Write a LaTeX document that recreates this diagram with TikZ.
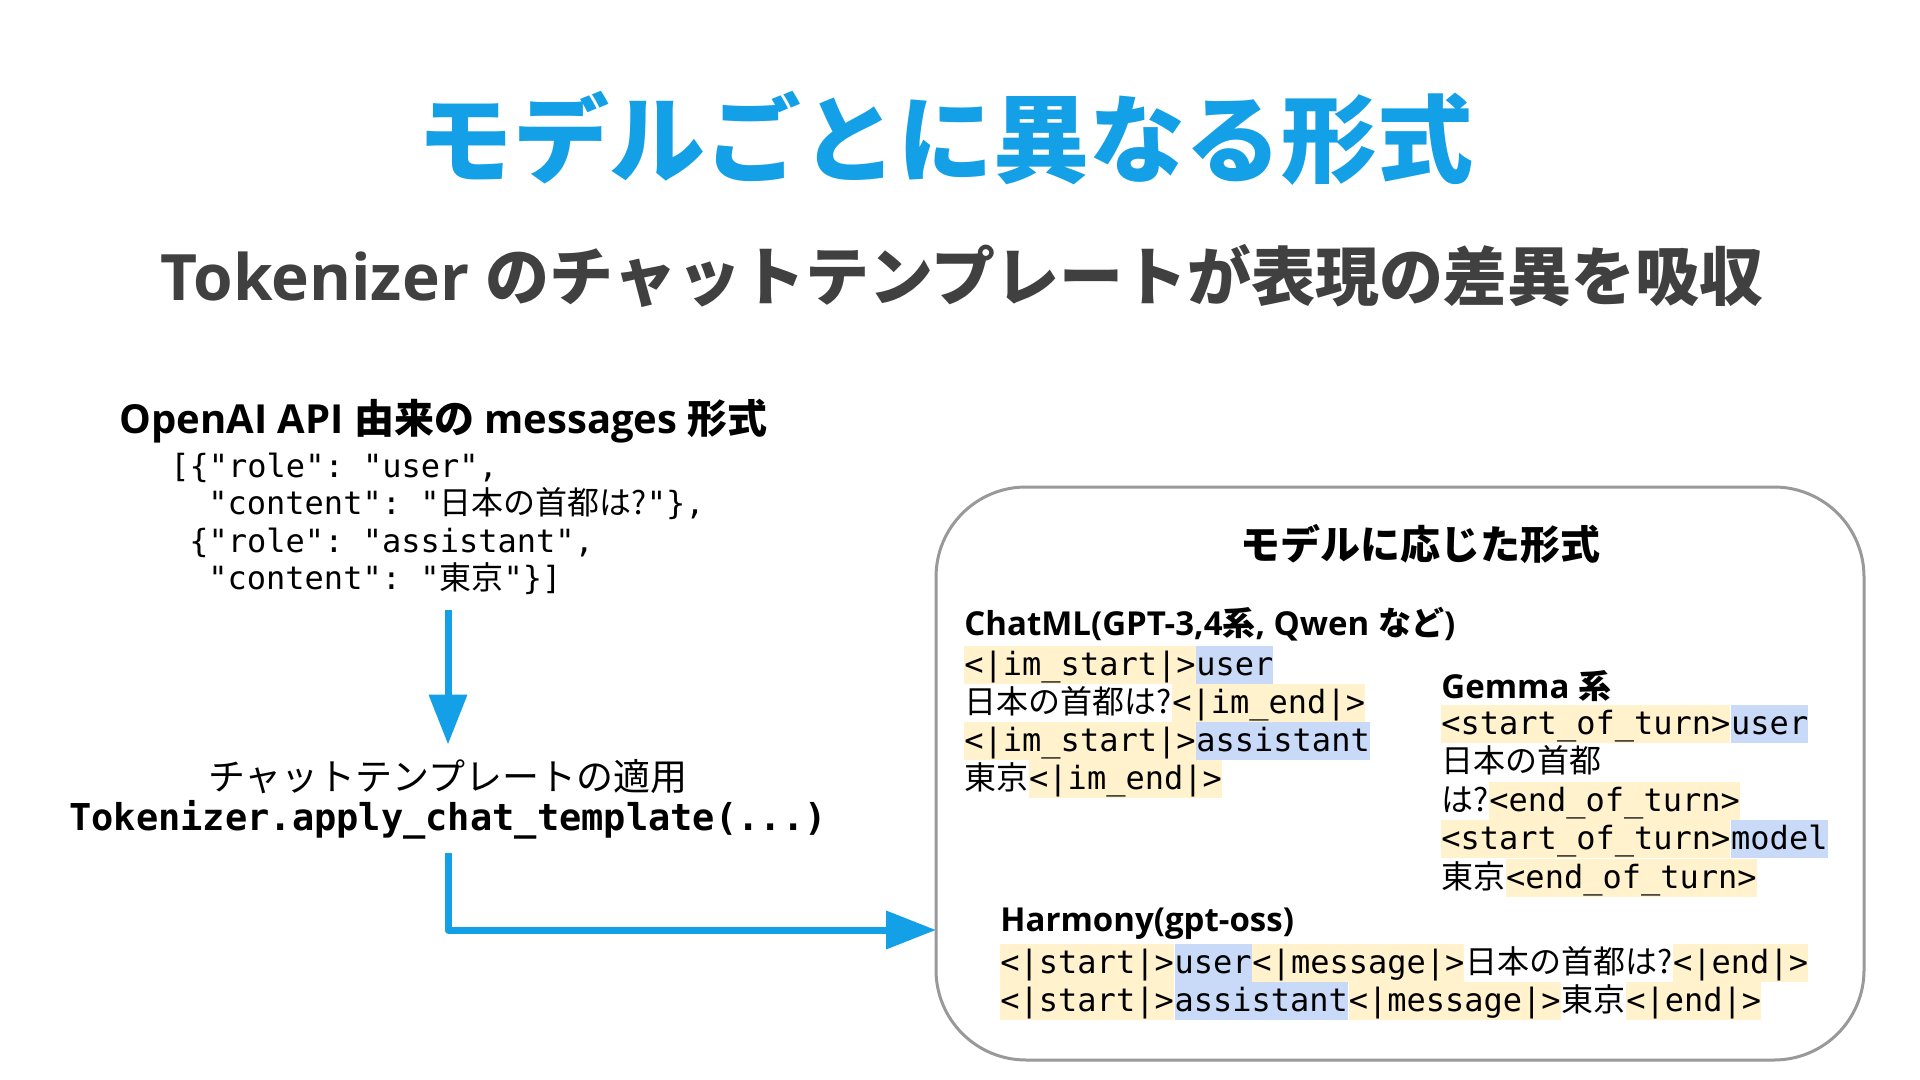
\documentclass[tikz,border=0pt]{standalone}
\usepackage{fontspec}
\setmainfont{Open Sans}
\setmonofont{DejaVu Sans Mono}
\newfontfamily\cjk{Noto Sans CJK JP}
\usepackage{tikz}
\usetikzlibrary{arrows.meta,positioning}
\definecolor{accent}{RGB}{20,160,230}
\definecolor{subgray}{RGB}{64,64,64}
\definecolor{framegray}{RGB}{153,153,153}
\definecolor{tagbg}{RGB}{255,242,204}
\definecolor{rolebg}{RGB}{201,218,248}
\newcommand{\jtext}[1]{{\cjk #1}}
\newcommand{\codefont}{\ttfamily\fontsize{16pt}{19pt}\selectfont}

\begin{document}
\begin{tikzpicture}[x=0.5pt,y=-0.5pt]
\tikzstyle{code}=[font=\codefont,inner sep=0pt,anchor=base west,text height=14.5pt,text depth=4.5pt]
\tikzstyle{tag}=[code,fill=tagbg]
\tikzstyle{role}=[code,fill=rolebg]
\tikzstyle{head}=[font=\bfseries\fontsize{16.5pt}{20pt}\selectfont,inner sep=0pt,anchor=west]
\tikzstyle{flow}=[draw=accent,line width=3.5pt,line join=round,-{Triangle[length=25pt,width=18.5pt]}]
% canvas
\fill[white] (0,0) rectangle (1920,1080);
\useasboundingbox (0,0) rectangle (1920,1080);
% title and subtitle
\node[text=accent,font=\cjk\bfseries\fontsize{48pt}{56pt}\selectfont] (title) at (945,138) {モデルごとに異なる形式};
\node[text=subgray,font=\bfseries\fontsize{32pt}{40pt}\selectfont] (sub) at (962,276) {Tokenizer \jtext{のチャットテンプレートが表現の差異を吸収}};
% messages format
\node[head,font=\bfseries\fontsize{20pt}{24pt}\selectfont] (msghead) at (119,421) {OpenAI API \jtext{由来の} messages \jtext{形式}};
\node[code] (m1) at (170,477) {[\{"role": "user",};
\node[code] (m2) at (208,514) {"content": "\jtext{日本の首都は?}"\},};
\node[code] (m3) at (189,552) {\{"role": "assistant",};
\node[code] (m4) at (208,589) {"content": "\jtext{東京}"\}]};
% applying the template
\node[font=\cjk\fontsize{18.5pt}{22pt}\selectfont,anchor=base,inner sep=7pt] (tmpl) at (448,790) {チャットテンプレートの適用};
\node[font=\ttfamily\bfseries\fontsize{18.5pt}{22pt}\selectfont,anchor=base,inner sep=7pt] (call) at (448,830) {Tokenizer.apply\_chat\_template(...)};
% frame with the model formats
\node[draw=framegray,line width=1.5pt,rounded corners=45pt,minimum width=464pt,minimum height=286.5pt] (fmtbox) at (1400,773.5) {};
\node[font=\cjk\bfseries\fontsize{20pt}{24pt}\selectfont] (fmthead) at (1420,544) {モデルに応じた形式};
% ChatML
\node[head] (chatml) at (964,624) {ChatML(GPT-3,4\jtext{系}, Qwen \jtext{など})};
\node[tag] (c1a) at (964,675) {<|im\_start|>}; \node[role] (c1b) at (c1a.base east) {user};
\node[code] (c2a) at (964,713) {\jtext{日本の首都は?}}; \node[tag] (c2b) at (c2a.base east) {<|im\_end|>};
\node[tag] (c3a) at (964,751) {<|im\_start|>}; \node[role] (c3b) at (c3a.base east) {assistant};
\node[code] (c4a) at (964,789) {\jtext{東京}}; \node[tag] (c4b) at (c4a.base east) {<|im\_end|>};
% Gemma
\node[head] (gemma) at (1441,686) {Gemma \jtext{系}};
\node[tag] (g1a) at (1441,734) {<start\_of\_turn>}; \node[role] (g1b) at (g1a.base east) {user};
\node[code] (g2a) at (1441,772) {\jtext{日本の首都}};
\node[code] (g3a) at (1441,811) {\jtext{は?}}; \node[tag] (g3b) at (g3a.base east) {<end\_of\_turn>};
\node[tag] (g4a) at (1441,849) {<start\_of\_turn>}; \node[role] (g4b) at (g4a.base east) {model};
\node[code] (g5a) at (1441,888) {\jtext{東京}}; \node[tag] (g5b) at (g5a.base east) {<end\_of\_turn>};
% Harmony
\node[head] (harmony) at (1000,924) {Harmony(gpt-oss)};
\node[tag] (h1a) at (1000,973) {<|start|>}; \node[role] (h1b) at (h1a.base east) {user};
\node[tag] (h1c) at (h1b.base east) {<|message|>}; \node[code] (h1d) at (h1c.base east) {\jtext{日本の首都は?}};
\node[tag] (h1e) at (h1d.base east) {<|end|>};
\node[tag] (h2a) at (1000,1011) {<|start|>}; \node[role] (h2b) at (h2a.base east) {assistant};
\node[tag] (h2c) at (h2b.base east) {<|message|>}; \node[code] (h2d) at (h2c.base east) {\jtext{東京}};
\node[tag] (h2e) at (h2d.base east) {<|end|>};
% arrows
\coordinate (down) at (448,610);
\coordinate (boxin) at (936,930);
\draw[flow] (down) -- (tmpl.north);
\draw[flow] (call.south) |- (boxin);
\end{tikzpicture}
\end{document}
